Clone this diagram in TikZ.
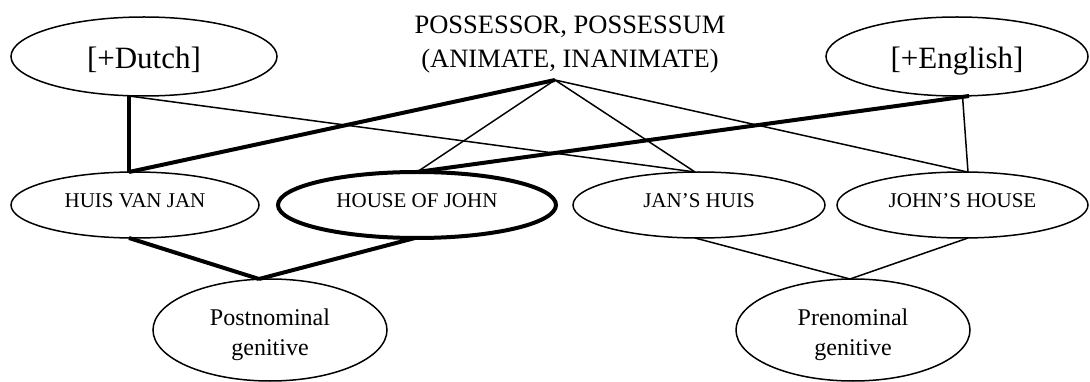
\documentclass[tikz,border=0pt]{standalone}
\usepackage{fontspec}
\setmainfont{Liberation Serif}
\usetikzlibrary{shapes.geometric}
\begin{document}
\begin{tikzpicture}[x=1pt,y=-1pt,
  oval/.style={ellipse, draw, line width=1.5pt, inner sep=0pt, outer sep=0pt},
  langnode/.style={oval, minimum height=79pt,
    font=\fontsize{31}{37}\selectfont, text height=24pt, text depth=0.4pt},
  formnode/.style={oval, minimum height=66pt,
    font=\fontsize{21}{25}\selectfont, text height=14pt, text depth=9pt},
  gennode/.style={oval, minimum width=234pt, minimum height=102pt,
    font=\fontsize{24}{30}\selectfont, text height=17pt, text depth=27pt},
  thinlink/.style={line width=1.5pt},
  boldlink/.style={line width=4pt}
]
\useasboundingbox (0,0) rectangle (1090,382);

% top level: languages and the feature pair
\node[langnode, minimum width=266pt] (dutch) at (144,56.5) {[+Dutch]};
\node[langnode, minimum width=262pt] (english) at (957,56.5) {[+English]};
\node[inner sep=0pt, align=center, font=\fontsize{26.5}{34}\selectfont]
  (title) at (570,44.5) {POSSESSOR, POSSESSUM\\(ANIMATE, INANIMATE)};
\coordinate (apex) at (555,80);

% middle level: the four constructions
\node[formnode, minimum width=248pt] (huis) at (135,205) {HUIS VAN JAN};
\node[formnode, minimum width=278pt, line width=4pt] (house) at (417,205) {HOUSE OF JOHN};
\node[formnode, minimum width=252pt] (jans) at (699,205) {JAN’S HUIS};
\node[formnode, minimum width=251pt] (johns) at (962.5,205) {JOHN’S HOUSE};

% bottom level: genitive types
\node[gennode] (post) at (270,330)
  {\begin{tabular}[t]{@{}c@{}}Postnominal\\genitive\end{tabular}};
\node[gennode] (pre) at (853,330)
  {\begin{tabular}[t]{@{}c@{}}Prenominal\\genitive\end{tabular}};

% connectors from the top level
\draw[boldlink] ([xshift=-15pt]dutch.south) -- ([xshift=-6pt]huis.north);
\draw[thinlink] ([xshift=-15pt]dutch.south) -- ([xshift=-4pt]jans.north);
\draw[boldlink] (apex) -- ([xshift=-6pt]huis.north);
\draw[thinlink] (apex) -- (house.north);
\draw[thinlink] (apex) -- ([xshift=-4pt]jans.north);
\draw[thinlink] (apex) -- ([xshift=5pt]johns.north);
\draw[boldlink] ([xshift=12pt]english.south) -- (house.north);
\draw[thinlink] ([xshift=5.5pt]english.south) -- ([xshift=5.5pt]johns.north);

% connectors to the bottom level
\draw[boldlink] ([xshift=-6pt]huis.south) -- ([xshift=-11pt]post.north);
\draw[boldlink] ([xshift=-2pt]house.south) -- ([xshift=-11pt]post.north);
\draw[thinlink] ([xshift=-4pt]jans.south) -- ([xshift=-3pt]pre.north);
\draw[thinlink] ([xshift=5.5pt]johns.south) -- ([xshift=-3pt]pre.north);
\end{tikzpicture}
\end{document}
